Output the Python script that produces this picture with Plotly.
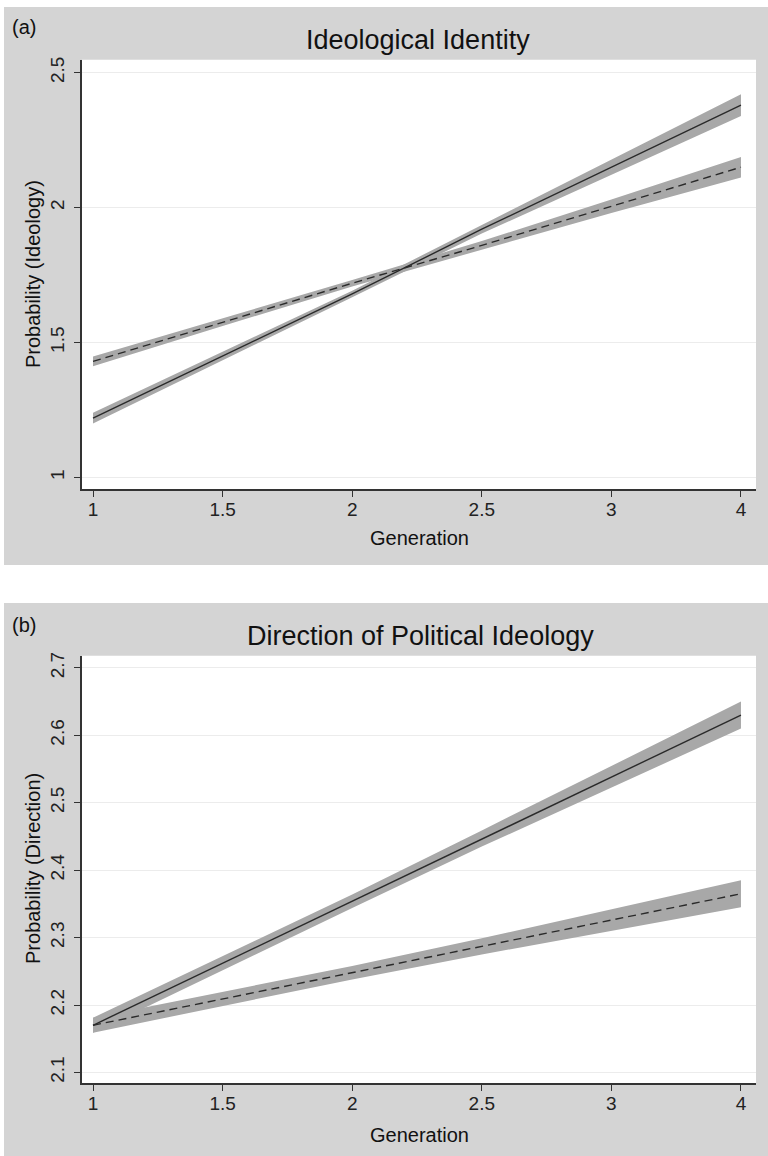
import plotly.graph_objects as go

# ---- data ----
gen_labels = ["1", "1.5", "2", "2.5", "3", "4"]

a_solid = [1.22, 1.45, 1.68, 1.92, 2.15, 2.38]
a_solid_ci = [0.02, 0.015, 0.012, 0.016, 0.027, 0.04]
a_dash = [1.43, 1.575, 1.72, 1.86, 2.005, 2.15]
a_dash_ci = [0.018, 0.014, 0.012, 0.016, 0.025, 0.038]

b_solid = [2.17, 2.262, 2.354, 2.447, 2.539, 2.63]
b_solid_ci = [0.011, 0.01, 0.01, 0.012, 0.016, 0.02]
b_dash = [2.17, 2.209, 2.248, 2.287, 2.326, 2.365]
b_dash_ci = [0.011, 0.01, 0.01, 0.012, 0.016, 0.02]

a_yticks = [1, 1.5, 2, 2.5]
a_yticktext = ["1", "1.5", "2", "2.5"]
b_yticks = [2.1, 2.2, 2.3, 2.4, 2.5, 2.6, 2.7]
b_yticktext = ["2.1", "2.2", "2.3", "2.4", "2.5", "2.6", "2.7"]

FONT = "Liberation Sans, Arial, sans-serif"
BAND = "#a8a8a8"
LINE = "#2a2a2a"
PANEL = "#d4d4d4"
W, H = 768, 1156

fig = go.Figure()


def add_series(vals, ci, dash, xa, ya):
    upper = [v + c for v, c in zip(vals, ci)]
    lower = [v - c for v, c in zip(vals, ci)]
    fig.add_trace(go.Scatter(
        x=gen_labels + gen_labels[::-1], y=upper + lower[::-1],
        fill="toself", fillcolor=BAND, line=dict(width=0),
        mode="lines", hoverinfo="skip", showlegend=False,
        xaxis=xa, yaxis=ya))
    return dict(x=gen_labels, y=vals, mode="lines",
                line=dict(color=LINE, width=1.4, dash=dash),
                showlegend=False, xaxis=xa, yaxis=ya)


lines = []
lines.append(add_series(a_solid, a_solid_ci, "solid", "x", "y"))
lines.append(add_series(a_dash, a_dash_ci, "8px,5px", "x", "y"))
lines.append(add_series(b_solid, b_solid_ci, "solid", "x2", "y2"))
lines.append(add_series(b_dash, b_dash_ci, "8px,5px", "x2", "y2"))
for l in lines:
    fig.add_trace(go.Scatter(**l))

px_x = lambda p: p / W
px_y = lambda p: 1 - p / H

xdom = [px_x(82), px_x(756)]
xaxis_common = dict(
    type="category", categoryorder="array", categoryarray=gen_labels,
    range=[-0.085, 5.116], showgrid=False, zeroline=False,
    showline=True, linecolor="#333333", linewidth=1.5,
    ticks="outside", ticklen=6, tickwidth=1.3, tickcolor="#333333",
    tickfont=dict(family=FONT, size=19, color="#222222"),
    ticklabelstandoff=-4,
    fixedrange=True, domain=xdom)
yaxis_common = dict(
    showgrid=True, gridcolor="#ececec", gridwidth=1, zeroline=False,
    showline=True, linecolor="#333333", linewidth=1.5,
    ticks="outside", ticklen=6, tickwidth=1.3, tickcolor="#333333",
    tickangle=-90, tickmode="array",
    tickfont=dict(family=FONT, size=19, color="#222222"),
    ticklabelstandoff=3,
    fixedrange=True)

fig.update_layout(
    width=W, height=H, margin=dict(l=0, r=0, t=0, b=0),
    paper_bgcolor="white", plot_bgcolor="white",
    xaxis=dict(**xaxis_common, anchor="y"),
    yaxis=dict(**yaxis_common, anchor="x", range=[0.956, 2.548],
               tickvals=a_yticks, ticktext=a_yticktext,
               domain=[px_y(487), px_y(56)]),
    xaxis2=dict(**xaxis_common, anchor="y2"),
    yaxis2=dict(**yaxis_common, anchor="x2", range=[2.084, 2.718],
                tickvals=b_yticks, ticktext=b_yticktext,
                domain=[px_y(1083), px_y(654)]),
)

# gray panel backgrounds
fig.add_shape(type="rect", xref="paper", yref="paper", layer="below",
              x0=px_x(4), x1=1, y0=px_y(563), y1=px_y(3),
              fillcolor=PANEL, line=dict(width=0))
fig.add_shape(type="rect", xref="paper", yref="paper", layer="below",
              x0=px_x(4), x1=1, y0=0, y1=px_y(601),
              fillcolor=PANEL, line=dict(width=0))
# white plot areas
fig.add_shape(type="rect", xref="paper", yref="paper", layer="below",
              x0=xdom[0], x1=xdom[1], y0=px_y(487), y1=px_y(56),
              fillcolor="white", line=dict(width=0))
fig.add_shape(type="rect", xref="paper", yref="paper", layer="below",
              x0=xdom[0], x1=xdom[1], y0=px_y(1083), y1=px_y(654),
              fillcolor="white", line=dict(width=0))


def ann(text, x, y, size, angle=0, anchor="center"):
    fig.add_annotation(text=text, xref="paper", yref="paper",
                       x=px_x(x), y=px_y(y), showarrow=False,
                       textangle=angle, xanchor=anchor, yanchor="middle",
                       font=dict(family=FONT, size=size, color="#111111"))


ann("(a)", 10, 23, 20, anchor="left")
ann("Ideological Identity", 418, 36, 27)
ann("Probability (Ideology)", 33, 271, 20, angle=-90)
ann("Generation", 419, 536, 20)

ann("(b)", 10, 623, 20, anchor="left")
ann("Direction of Political Ideology", 420, 634, 27)
ann("Probability (Direction)", 33, 868, 20, angle=-90)
ann("Generation", 419, 1135, 20)

fig.write_html(
    "out.html",
    config={"displayModeBar": False},
    post_script="document.body.style.margin='0';document.body.style.overflow='hidden';",
)
